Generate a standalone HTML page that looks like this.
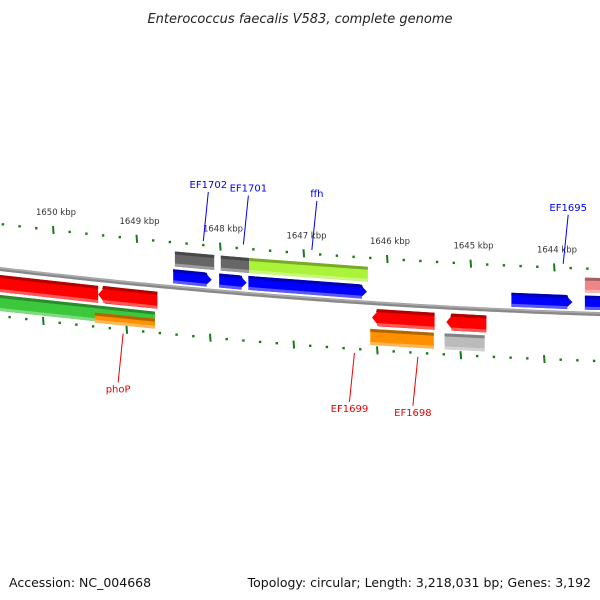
<!DOCTYPE html>
<html><head><meta charset="utf-8"><style>
body{margin:0;background:#fff}
svg{display:block;font-family:"DejaVu Sans","Liberation Sans",sans-serif}
</style></head><body>
<svg id="map" width="600" height="600" viewBox="0 0 600 600" xmlns="http://www.w3.org/2000/svg">
<rect width="600" height="600" fill="#fff"/>
<text x="300" y="23" text-anchor="middle" font-size="13" font-style="italic" fill="#222">Enterococcus faecalis V583, complete genome</text>
<text x="9" y="587" font-size="12.5" fill="#111">Accession: NC_004668</text>
<text x="591" y="587" text-anchor="end" font-size="12.5" fill="#111">Topology: circular; Length: 3,218,031 bp; Genes: 3,192</text>
<g id="plot"></g>
</svg>
<script>
var majorTicks=[1650,1649,1648,1647,1646,1645,1644];
var featStart=[1648.54,1647.99,1647.65,1643.63,1648.56,1648.01,1647.66,1644.51,1643.63,1650.7,1649.46,1650.7,1649.50,1646.18,1645.29,1646.20,1645.31];
var featEnd=[1648.07,1647.65,1646.23,1643.3,1648.10,1647.68,1646.24,1643.78,1643.3,1649.46,1648.75,1648.78,1648.78,1645.43,1644.81,1645.44,1644.83];
var featTrack=["f2","f2","f2","f2","f1","f1","f1","f1","f1","r1","r1","r2","r2b","r1","r1","r2","r2"];
var featColor=["#666666","#666666","#aaf33a","#ee8888","#0000ff","#0000ff","#0000ff","#0000ff","#0000ff","#ff0000","#ff0000","#3cc83c","#ff9000","#ff0000","#ff0000","#ff9000","#bbbbbb"];
var featArrow=[0,0,0,0,1,1,1,1,0,0,-1,0,0,-1,-1,0,0];
var labelText=["EF1702","EF1701","ffh","EF1695","phoP","EF1699","EF1698"];
var labelPos=[1648.2,1647.72,1646.9,1643.89,1649.16,1646.39,1645.63];
var labelStrand=[1,1,1,1,-1,-1,-1];

(function(){
var NS="http://www.w3.org/2000/svg";
var g=document.getElementById('plot');
function X(k){return 53+(1650-k)*83.5;}
function Y(x,off){return 269+0.1183*x-7.2e-5*x*x+off;}
function mk(t,a){var e=document.createElementNS(NS,t);for(var k in a)e.setAttribute(k,a[k]);g.appendChild(e);return e;}
function shade(c,f){var n=parseInt(c.slice(1),16),r=n>>16,gg=(n>>8)&255,b=n&255;
 function m(v){return Math.round(f<0?v*(1+f):v+(255-v)*f);}return 'rgb('+m(r)+','+m(gg)+','+m(b)+')';}
function ptsStr(arr){return arr.map(function(q){return q[0].toFixed(1)+","+q[1].toFixed(1);}).join(" ");}
var bp="";for(var x=-5;x<=605;x+=5){bp+=(x==-5?"M":"L")+x+","+Y(x,0).toFixed(1);}
var bb=mk('path',{d:bp,fill:'none',stroke:'#888',"stroke-width":4});


var bb2=mk('path',{d:bp,fill:'none',stroke:'#aaa',"stroke-width":1.5,transform:'translate(0,-1)'});


for(var t=1651;t>=1643;t-=0.2){
 var tt=Math.round(t*5)/5;var maj=Math.abs(tt-Math.round(tt))<0.01;
 var xo=X(tt), xi=X(tt)-10;
 [[xo,-45],[xi,47]].forEach(function(p){
  if(p[0]<-2||p[0]>602)return;
  var y=Y(p[0],p[1]);
  var l=mk('line',{x1:p[0],x2:p[0]+(maj?0.6:0),y1:y-(maj?4:1.2),y2:y+(maj?4:1.2),stroke:'#1a7a1a',"stroke-width":maj?2:2.4});
  
  
 });
}
majorTicks.forEach(function(k){
 var x=X(k);
 var tx=mk('text',{x:x+3,y:Y(x,-45)-15,"text-anchor":"middle","font-size":8.5,fill:'#333'});
 tx.textContent=k+" kbp";
 
 
});
var tracks={f2:[-36,15],f1:[-18,14],r1:[6,17],r2:[26,16],r2b:[33,10]};
for(var i=0;i<featStart.length;i++){
 var x0=X(featStart[i]),x1=X(featEnd[i]),tr=tracks[featTrack[i]],h=tr[1],a=featArrow[i],c=featColor[i];
 var pts;
 if(a==1){var xh=x1-7;pts=[[x0,Y(x0,tr[0])],[xh,Y(xh,tr[0])],[x1,Y(x1,tr[0]+h/2)],[xh,Y(xh,tr[0]+h)],[x0,Y(x0,tr[0]+h)]];}
 else if(a==-1){var xh2=x0+7;pts=[[x0,Y(x0,tr[0]+h/2)],[xh2,Y(xh2,tr[0])],[x1,Y(x1,tr[0])],[x1,Y(x1,tr[0]+h)],[xh2,Y(xh2,tr[0]+h)]];}
 else pts=[[x0,Y(x0,tr[0])],[x1,Y(x1,tr[0])],[x1,Y(x1,tr[0]+h)],[x0,Y(x0,tr[0]+h)]];
 var p=mk('polygon',{points:ptsStr(pts),fill:c});
 
 
 var ts=mk('polygon',{points:ptsStr([[x0+(a==-1?5:0),Y(x0,tr[0])],[x1-(a==1?5:0),Y(x1,tr[0])],[x1-(a==1?4:0),Y(x1,tr[0]+3)],[x0+(a==-1?4:0),Y(x0,tr[0]+3)]]),fill:shade(c,-0.3)});
 
 
 var bs=mk('polygon',{points:ptsStr([[x0+(a==-1?5:0),Y(x0,tr[0]+h-3)],[x1-(a==1?5:0),Y(x1,tr[0]+h-3)],[x1-(a==1?5:0),Y(x1,tr[0]+h)],[x0+(a==-1?5:0),Y(x0,tr[0]+h)]]),fill:shade(c,0.35)});
 
 
}
for(var j=0;j<labelText.length;j++){
 var lx=X(labelPos[j]),s=labelStrand[j],col=s>0?'#0000ee':'#ee0000';
 var yb=Y(lx,s>0?-45:47);
 var y1=s>0?yb-4:yb+4,y2=s>0?yb-53:yb+53;
 var ln=mk('line',{x1:lx,y1:y1,x2:lx+5*s,y2:y2,stroke:col,"stroke-width":1});
 
 
 var lt=mk('text',{x:lx+5*s,y:s>0?y2-4:y2+10,"text-anchor":"middle","font-size":10,fill:col});
 lt.textContent=labelText[j];
 
 
}
})();
</script>
</body></html>
